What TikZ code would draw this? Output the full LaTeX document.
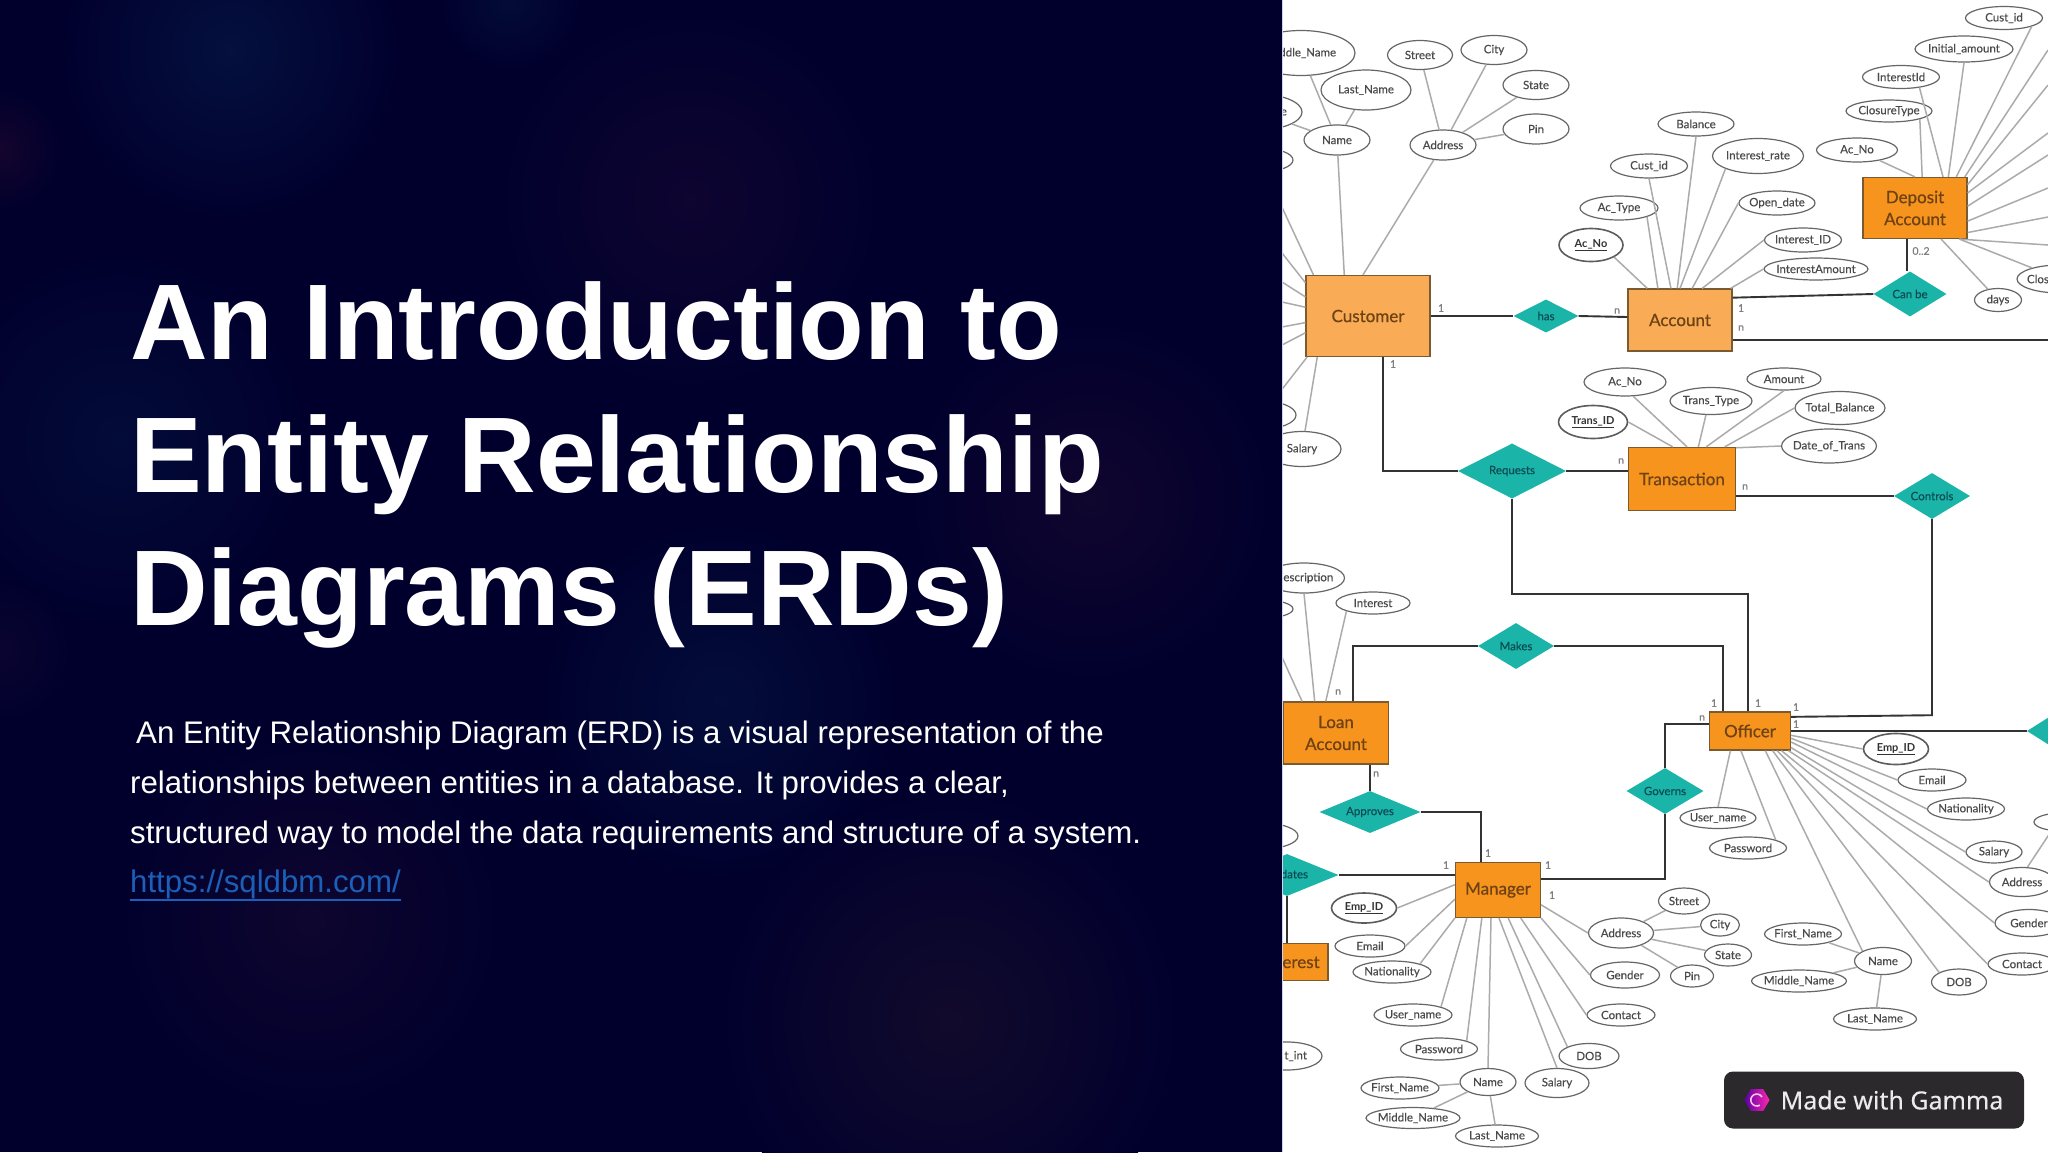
\documentclass[tikz,border=0pt]{standalone}
\usepackage{fontspec}
\setmainfont{Liberation Sans}
\newfontfamily\erfont[FakeBold=0.3]{Lato}
\newfontfamily\entityfont[FakeBold=0.7]{Lato}
\newfontfamily\keyfont{Lato Bold}
\newfontfamily\badgefont[FakeBold=0.2]{Noto Sans}
\usetikzlibrary{positioning,shapes.geometric}
\definecolor{panelnavy}{HTML}{01002D}
\definecolor{linkblue}{HTML}{1B5FB8}
\definecolor{darkorange}{HTML}{F7941E}
\definecolor{lightorange}{HTML}{F9AC55}
\definecolor{entityedge}{HTML}{7A5A30}
\definecolor{entitytext}{HTML}{6E4214}
\definecolor{relteal}{HTML}{1AB5A8}
\definecolor{relink}{HTML}{0B4A55}
\definecolor{attredge}{HTML}{666666}
\definecolor{attrtext}{HTML}{4A4A4A}
\definecolor{attrstroke}{HTML}{ABABAB}
\definecolor{relstroke}{HTML}{333333}
\definecolor{cardgray}{HTML}{7F7F7F}
\definecolor{badgegray}{HTML}{2C292C}
\definecolor{paneledge}{HTML}{CDD1F2}

\begin{document}
\begin{tikzpicture}[
      x=1pt, y=-1pt, on grid,
      zerowide/.style={execute at begin node={\hbox to 0pt\bgroup\hss}, execute at end node={\hss\egroup}},
      attr/.style 2 args={ellipse, draw=attredge, line width=1.2pt, fill=white, inner sep=0pt, minimum width=#1pt, minimum height=#2pt, text=attrtext, font=\erfont\fontsize{11.5}{13}\selectfont, zerowide},
      keyattr/.style 2 args={attr={#1}{#2}, draw=relstroke!80, line width=1.6pt, text=relstroke, font=\keyfont\fontsize{11}{13}\selectfont},
      entity/.style 2 args={draw=entityedge, line width=1.2pt, fill=darkorange, inner sep=0pt, minimum width=#1pt, minimum height=#2pt, align=center, text=entitytext, font=\entityfont\fontsize{17}{22}\selectfont},
      lightentity/.style 2 args={entity={#1}{#2}, fill=lightorange},
      rel/.style 2 args={diamond, aspect=1.5, fill=relteal, inner sep=0pt, minimum width=#1pt, minimum height=#2pt, text=relink, font=\erfont\fontsize{11.5}{13}\selectfont, zerowide},
      card/.style={text=cardgray, inner sep=0pt, font=\erfont\fontsize{10.5}{12}\selectfont},
      attrline/.style={draw=attrstroke, line width=1.5pt},
      relline/.style={draw=relstroke, line width=1.9pt}
    ]
    \useasboundingbox (0,0) rectangle (2048,1152);
    % left panel
    \fill[panelnavy] (0,0) rectangle (1282,1152);
    \foreach \blobx/\bloby/\blobr/\blobc in {230/50/170/04103F, 510/0/70/030C38, 0/150/60/14052D, 690/200/190/0E0530, 120/440/190/030B38, 1090/500/180/10062E, 720/700/180/030D3A, 310/920/190/0E062E, 950/1020/230/110A2C, 0/650/70/0A0530} {
      \definecolor{blobcolor}{HTML}{\blobc}
      \shade[inner color=blobcolor, outer color=panelnavy] (\blobx,\bloby) circle (\blobr);
    }
    % right panel
    \fill[white] (1282,0) rectangle (2048,1152);
    \begin{scope}
    \clip (1282,0) rectangle (2048,1152);
    % entities and relationships
    \node[lightentity={124}{81}] (customer) at (1368,316) {Customer};
    \node[rel={65}{33}, right=178pt of customer] (has) {has};
    \node[lightentity={104}{62}, below right=4pt and 312pt of customer] (account) {Account};
    \node[rel={73}{45}, above right=26pt and 230pt of account] (canbe) {Can be};
    \node[entity={104}{61}, above right=86pt and 5pt of canbe] (deposit) {Deposit\\Account};
    \node[entity={107}{63}, below right=159pt and 2pt of account] (transaction) {Transaction};
    \node[rel={108}{55}, above left=8pt and 170pt of transaction] (requests) {Requests};
    \node[rel={76}{46}, below right=17pt and 250pt of transaction] (controls) {Controls};
    \node[entity={81}{38}, below right=252pt and 68pt of transaction] (officer) {Officer};
    \node[rel={76}{46}, above left=85pt and 234pt of officer] (makes) {Makes};
    \node[entity={105}{62}, below left=87pt and 180pt of makes] (loan) {Loan\\Account};
    \node[rel={101}{42}, below right=79pt and 34pt of loan] (approves) {Approves};
    \node[entity={85}{55}, below right=78pt and 128pt of approves] (manager) {Manager};
    \node[rel={77}{46}, below left=60pt and 85pt of officer] (governs) {Governs};
    \node[rel={103}{42}, above left=15pt and 211pt of manager] (updates) {Updates};
    \node[entity={74}{37}, below right=87pt and 4pt of updates] (interest) {Interest};
    \node[rel={82}{52}, right=318pt of officer] (rightrel) {\makebox[40pt][l]{C}};
    % customer attributes
    \node[attr={66}{30}, above left=176pt and 31pt of customer] (name) {Name};
    \node[attr={66}{30}, above right=171pt and 75pt of customer] (address) {Address};
    \node[attr={88}{36}, above left=28pt and 79pt of name] (firstcust) {First\_Name};
    \node[attr={108}{45}, above left=87pt and 36pt of name] (middlecust) {Middle\_Name};
    \node[attr={90}{40}, above right=50pt and 29pt of name] (lastcust) {Last\_Name};
    \node[attr={65}{29}, above left=90pt and 23pt of address] (street) {Street};
    \node[attr={66}{29}, above right=95pt and 51pt of address] (city) {City};
    \node[attr={66}{29}, above right=60pt and 93pt of address] (state) {State};
    \node[attr={66}{30}, above right=16pt and 93pt of address] (pin) {Pin};
    \node[attr={66}{24}, above left=156pt and 108pt of customer] (blanka) {};
    \node[attr={68}{28}, below left=99pt and 106pt of customer] (blankb) {};
    \node[attr={78}{35}, below left=133pt and 66pt of customer] (salary) {Salary};
    % account attributes
    \node[attr={76}{24}, above right=196pt and 16pt of account] (balance) {Balance};
    \node[attr={77}{24}, above left=154pt and 31pt of account] (custacc) {Cust\_id};
    \node[attr={91}{35}, above right=164pt and 78pt of account] (rate) {Interest\_rate};
    \node[attr={78}{24}, above left=112pt and 61pt of account] (actype) {Ac\_Type};
    \node[attr={76}{24}, above right=117pt and 97pt of account] (opendate) {Open\_date};
    \node[keyattr={64}{33}, above left=75pt and 89pt of account] (acnoacc) {\underline{Ac\_No}};
    \node[attr={77}{24}, above right=80pt and 123pt of account] (interestidacc) {Interest\_ID};
    \node[attr={104}{22}, above right=51pt and 136pt of account] (amountacc) {InterestAmount};
    % deposit attributes
    \node[attr={81}{24}, above left=58pt and 58pt of deposit] (acnodep) {Ac\_No};
    \node[attr={86}{22}, above left=97pt and 26pt of deposit] (closuretype) {ClosureType};
    \node[attr={77}{23}, above left=131pt and 14pt of deposit] (interestid) {InterestId};
    \node[attr={98}{26}, above right=159pt and 49pt of deposit] (initial) {Initial\_amount};
    \node[attr={77}{23}, above right=190pt and 89pt of deposit] (custdep) {Cust\_id};
    \node[attr={47}{23}, below right=92pt and 83pt of deposit] (days) {days};
    \node[attr={86}{28}, below right=71pt and 145pt of deposit] (closdep) {\makebox[66pt][l]{Clos}};
    % transaction attributes
    \node[keyattr={69}{33}, above left=57pt and 89pt of transaction] (transid) {\underline{Trans\_ID}};
    \node[attr={82}{28}, above left=97pt and 57pt of transaction] (acnotr) {Ac\_No};
    \node[attr={82}{27}, above right=78pt and 29pt of transaction] (transtype) {Trans\_Type};
    \node[attr={74}{22}, above right=100pt and 102pt of transaction] (amounttr) {Amount};
    \node[attr={90}{33}, above right=71pt and 158pt of transaction] (totalbal) {Total\_Balance};
    \node[attr={95}{34}, above right=33pt and 147pt of transaction] (dateoftr) {Date\_of\_Trans};
    % loan attributes
    \node[attr={81}{30}, above left=155pt and 32pt of loan] (description) {Description};
    \node[attr={66}{19}, above left=124pt and 76pt of loan] (blankc) {};
    \node[attr={74}{22}, above right=130pt and 37pt of loan] (interestln) {Interest};
    \node[attr={72}{26}, above left=39pt and 25pt of updates] (blankd) {};
    \node[attr={70}{28}, below left=94pt and 4pt of interest] (amtint) {\makebox[40pt][r]{t\_int}};
    % manager attributes
    \node[keyattr={65}{30}, below left=18pt and 134pt of manager] (empmgr) {\underline{Emp\_ID}};
    \node[attr={70}{22}, below left=56pt and 128pt of manager] (emailmgr) {Email};
    \node[attr={78}{22}, below left=82pt and 106pt of manager] (natmgr) {Nationality};
    \node[attr={78}{22}, below left=125pt and 85pt of manager] (usermgr) {User\_name};
    \node[attr={77}{22}, below left=159pt and 59pt of manager] (passmgr) {Password};
    \node[attr={56}{27}, below left=192pt and 10pt of manager] (namemgr) {Name};
    \node[attr={64}{29}, below right=193pt and 59pt of manager] (salarymgr) {Salary};
    \node[attr={60}{25}, below right=166pt and 91pt of manager] (dobmgr) {DOB};
    \node[attr={68}{22}, below right=125pt and 123pt of manager] (contactmgr) {Contact};
    \node[attr={69}{26}, below right=85pt and 127pt of manager] (gendermgr) {Gender};
    \node[attr={65}{30}, below right=43pt and 123pt of manager] (addrmgr) {Address};
    \node[attr={51}{26}, above right=32pt and 63pt of addrmgr] (streetmgr) {Street};
    \node[attr={39}{22}, above right=8pt and 99pt of addrmgr] (citymgr) {City};
    \node[attr={47}{22}, below right=22pt and 107pt of addrmgr] (statemgr) {State};
    \node[attr={43}{22}, below right=43pt and 71pt of addrmgr] (pinmgr) {Pin};
    \node[attr={78}{22}, below left=6pt and 88pt of namemgr] (firstmgr) {First\_Name};
    \node[attr={94}{21}, below left=36pt and 75pt of namemgr] (middlemgr) {Middle\_Name};
    \node[attr={83}{22}, below right=54pt and 9pt of namemgr] (lastmgr) {Last\_Name};
    % officer attributes
    \node[keyattr={65}{31}, below right=18pt and 146pt of officer] (empoff) {\underline{Emp\_ID}};
    \node[attr={68}{22}, below right=49pt and 182pt of officer] (emailoff) {Email};
    \node[attr={77}{22}, below right=78pt and 216pt of officer] (natoff) {Nationality};
    \node[attr={56}{22}, below right=121pt and 244pt of officer] (salaryoff) {Salary};
    \node[attr={65}{29}, below right=151pt and 272pt of officer] (addroff) {Address};
    \node[attr={68}{27}, below right=192pt and 279pt of officer] (genderoff) {Gender};
    \node[attr={68}{22}, below right=233pt and 272pt of officer] (contactoff) {Contact};
    \node[attr={55}{26}, below right=251pt and 209pt of officer] (doboff) {DOB};
    \node[attr={57}{27}, below right=230pt and 133pt of officer] (nameoff) {Name};
    \node[attr={76}{21}, below left=87pt and 32pt of officer] (useroff) {User\_name};
    \node[attr={77}{22}, below left=117pt and 2pt of officer] (passoff) {Password};
    \node[attr={77}{22}, above left=27pt and 80pt of nameoff] (firstoff) {First\_Name};
    \node[attr={95}{22}, below left=20pt and 84pt of nameoff] (middleoff) {Middle\_Name};
    \node[attr={83}{22}, below left=58pt and 8pt of nameoff] (lastoff) {Last\_Name};
    \node[attr={56}{18}, above right=60pt and 40pt of addroff] (blanke) {};
    % attribute lines
    \foreach \from/\to in {name/customer.120, address/customer.97, blanka/customer.143, blankb/customer.214, salary/customer.219,
        firstcust/name, middlecust/name, lastcust/name, street/address, city/address, state/address, pin/address,
        acnoacc.south east/account.136, actype.south east/account.125, custacc.south/account.106, balance.south/account.95,
        rate.south west/account.90, opendate.west/account.69, interestidacc.west/account.55, amountacc.west/account.32,
        acnodep/deposit.90, closuretype.south east/deposit.77, interestid.-30/deposit.48, initial.south/deposit.43, custdep.south east/deposit.37,
        days/deposit.310, closdep/deposit.325,
        transid.east/transaction.106, acnotr.-60/transaction.81, transtype.250/transaction.63, amounttr.south/transaction.53, totalbal.west/transaction.37, dateoftr.west/transaction.30,
        description.south/loan.124, blankc/loan.137, interestln.south west/loan.108,
        empmgr.east/manager.173, emailmgr.east/manager.192, natmgr.north east/manager.213, usermgr.north east/manager.222, passmgr.north east/manager.240,
        namemgr.north/manager.256, salarymgr.north/manager.272, dobmgr.north west/manager.290, contactmgr.west/manager.309, gendermgr.west/manager.327, addrmgr.west/manager.341,
        streetmgr/addrmgr, citymgr/addrmgr, statemgr/addrmgr, pinmgr/addrmgr, firstmgr/namemgr, middlemgr/namemgr, lastmgr/namemgr,
        empoff.west/officer.354, emailoff.west/officer.350, natoff.west/officer.345, salaryoff.west/officer.338, addroff.west/officer.333, genderoff.west/officer.328,
        contactoff.west/officer.324, doboff.north west/officer.319, nameoff.north west/officer.308, useroff.north/officer.225, passoff.north east/officer.245,
        firstoff/nameoff, middleoff/nameoff, lastoff/nameoff, blanke.220/addroff.70}
      \draw[attrline] (\from) -- (\to);
    \foreach \ang/\endy [count=\k] in {152/253, 163/282, 172/302, 186/327, 195/345} {
      \coordinate (custend\k) at (1282,\endy);
      \draw[attrline] (customer.\ang) -- (custend\k);
    }
    \foreach \ang/\endy [count=\k] in {32/50, 24/85, 16/133, 2/155, 346/188, 335/217, 325/245} {
      \coordinate (depend\k) at (2048,\endy);
      \draw[attrline] (deposit.\ang) -- (depend\k);
    }
    % relationship lines
    \coordinate[below right=20pt and 368pt of account] (accountend);
    \draw[relline] (customer.east) -- (has.west);
    \draw[relline] (has.east) -- ([yshift=3pt]account.west);
    \draw[relline] (account.23) -- (canbe.west);
    \draw[relline] ([xshift=-8pt]deposit.south) -- ([xshift=-3pt]canbe.north);
    \draw[relline] ([yshift=-20pt]account.east) -- (accountend);
    \draw[relline] ([xshift=15pt]customer.south) |- (requests.west);
    \draw[relline] (requests.east) -- (requests.east -| transaction.west);
    \draw[relline] (controls.west -| transaction.east) -- (controls.west);
    \draw[relline] (requests.south) -- ++(0,95) -| ([xshift=-2pt]officer.north);
    \draw[relline] (controls.south) -- ++(0,196) -- (officer.19);
    \draw[relline] (makes.west) -| ([xshift=17pt]loan.north);
    \draw[relline] (makes.east) -| ([xshift=-27pt]officer.north);
    \draw[relline] (officer.east) -- (rightrel.west);
    \draw[relline] ([yshift=7pt]officer.west) -| (governs.north);
    \draw[relline] (approves.north |- loan.south) -- (approves.north);
    \draw[relline] (approves.east) -| ([xshift=-17pt]manager.north);
    \draw[relline] (updates.east) -- (updates.east -| manager.west);
    \draw[relline] (updates.south) -- (updates.south |- interest.north);
    \draw[relline] ([yshift=11pt]manager.east) -| (governs.south);
    % cardinalities
    \node[card, above right=8pt and 73pt of customer] (cardcusta) {1};
    \node[card, below right=48pt and 25pt of customer] (cardcustb) {1};
    \node[card, above left=9pt and 63pt of account] (cardacca) {n};
    \node[card, above right=12pt and 61pt of account] (cardaccb) {1};
    \node[card, below right=8pt and 61pt of account] (cardaccc) {n};
    \node[card, below right=43pt and 6pt of deposit] (carddep) {0..2};
    \node[card, above left=18pt and 61pt of transaction] (cardtra) {n};
    \node[card, below right=8pt and 63pt of transaction] (cardtrb) {n};
    \node[card, above right=41pt and 2pt of loan] (cardlna) {n};
    \node[card, below right=41pt and 40pt of loan] (cardlnb) {n};
    \node[card, above left=28pt and 36pt of officer] (cardoffa) {1};
    \node[card, above right=28pt and 8pt of officer] (cardoffb) {1};
    \node[card, above right=24pt and 46pt of officer] (cardoffc) {1};
    \node[card, above right=7pt and 46pt of officer] (cardoffd) {1};
    \node[card, above left=13pt and 48pt of officer] (cardoffe) {n};
    \node[card, above left=37pt and 10pt of manager] (cardmga) {1};
    \node[card, above left=25pt and 52pt of manager] (cardmgb) {1};
    \node[card, above right=25pt and 50pt of manager] (cardmgc) {1};
    \node[card, below right=5pt and 54pt of manager] (cardmgd) {1};
    % badge
    \node[fill=badgegray, rounded corners=9pt, minimum width=300pt, minimum height=57pt, inner sep=0pt] (badge) at (1874,1100) {};
    \node[regular polygon, regular polygon sides=6, left color=violet!70!blue, right color=magenta!70!orange, minimum size=25pt, inner sep=0pt] (gammaicon) at (1757,1100) {};
    \draw[magenta!25, line width=1.6pt] ([shift={(5pt,3pt)}]gammaicon.center) arc[start angle=30, end angle=300, radius=6pt];
    \node[right=135pt of gammaicon, text=white!92!black, inner sep=0pt, font=\badgefont\fontsize{25}{30}\selectfont] (gammatext) {Made with Gamma};
    \end{scope}
    \draw[paneledge, line width=1pt] (1282.5,0) -- (1282.5,1152);
    % left panel text
    \node[anchor=north west, inner sep=0pt, align=left, text=white, font=\bfseries\fontsize{107.5}{133}\selectfont] (title) at (130,281) {An Introduction to\\Entity Relationship\\Diagrams (ERDs)};
    \node[anchor=north west, inner sep=0pt, align=left, text=white, font=\fontsize{31.2}{50}\selectfont] (intro) at (130,721) {\hspace*{6pt}An Entity Relationship Diagram (ERD) is a visual representation of the\\relationships between entities in a database. It provides a clear,\\structured way to model the data requirements and structure of a system.};
    \node[anchor=north west, inner sep=0pt, text=linkblue, font=\fontsize{31.2}{37}\selectfont] (link) at (130,870) {https://sqldbm.com/};
    \draw[linkblue, line width=2pt] ([yshift=-1pt]link.south west) -- ([yshift=-1pt]link.south east);
  \end{tikzpicture}
\end{document}
